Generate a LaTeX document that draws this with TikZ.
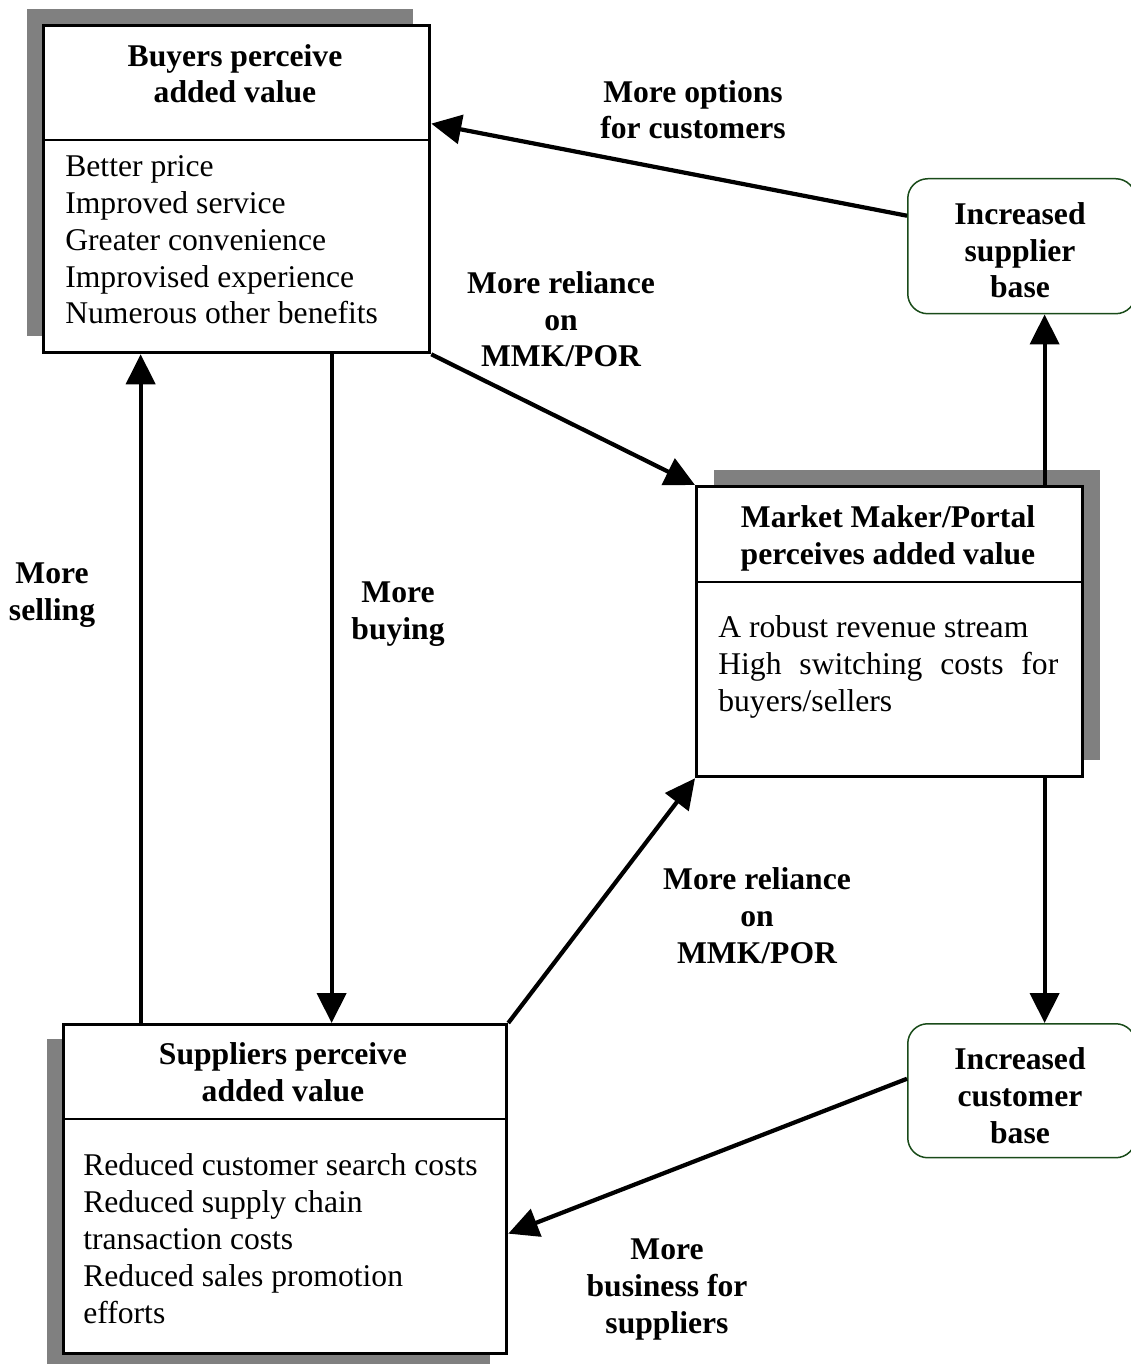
\documentclass[tikz,border=0pt]{standalone}
\usepackage{fontspec}
\setmainfont{Liberation Serif}
\usetikzlibrary{arrows.meta,shadows}
\definecolor{basegreen}{RGB}{25,75,25}
\tikzset{>={Triangle[length=0.6cm,width=0.58cm]}}

\begin{document}
\begin{tikzpicture}[x=0.02cm, y=-0.02cm,
    font=\fontsize{18}{21}\selectfont,
    valuebox/.style={draw, line width=1.9pt, fill=white, anchor=north west, inner sep=0pt},
    boxtitle/.style={font=\fontsize{18}{21}\selectfont\bfseries, align=center, anchor=base, inner sep=0pt},
    boxitems/.style={align=left, anchor=base west, inner sep=0pt},
    basebox/.style={draw=basegreen, line width=0.85pt, rounded corners=0.4cm, fill=white, anchor=north west, inner sep=0pt},
    flow/.style={->, line width=2.4pt},
    flowlabel/.style={font=\fontsize{18}{21}\selectfont\bfseries, align=center, anchor=base, inner sep=0pt}]

    \useasboundingbox (0,0) rectangle (1131,1364);

    % Value boxes with their shadows
    \node[valuebox, minimum width=7.72cm, minimum height=6.54cm,
          drop shadow={shadow xshift=-0.34cm, shadow yshift=0.34cm, fill=black!50, opacity=1}]
          (buyers) at (42,24) {};
    \node[valuebox, minimum width=7.72cm, minimum height=5.8cm,
          drop shadow={shadow xshift=0.34cm, shadow yshift=0.34cm, fill=black!50, opacity=1}]
          (mmk) at (695,485) {};
    \node[valuebox, minimum width=8.86cm, minimum height=6.58cm,
          drop shadow={shadow xshift=-0.34cm, shadow yshift=-0.28cm, fill=black!50, opacity=1}]
          (suppliers) at (62,1023) {};

    % Dividers under the titles
    \draw[line width=0.75pt] ([yshift=-2.32cm]buyers.north west) -- ([yshift=-2.32cm]buyers.north east);
    \draw[line width=0.75pt] ([yshift=-1.94cm]mmk.north west) -- ([yshift=-1.94cm]mmk.north east);
    \draw[line width=0.75pt] ([yshift=-1.92cm]suppliers.north west) -- ([yshift=-1.92cm]suppliers.north east);

    % Titles and contents (placed at the baseline of the last line)
    \node[boxtitle] (buyerstitle) at (235,103) {Buyers perceive\\added value};
    \node[boxitems] (buyersitems) at (65,324) {Better price\\Improved service\\Greater convenience\\Improvised experience\\Numerous other benefits};
    \node[boxtitle] (mmktitle) at (888,564) {Market Maker/Portal\\perceives added value};
    \node[boxitems] (mmkitems) at (718,711) {A robust revenue stream\\\makebox[6.8cm][s]{High switching costs for}\\buyers/sellers};
    \node[boxtitle] (supplierstitle) at (283,1101) {Suppliers perceive\\added value};
    \node[boxitems] (suppliersitems) at (83,1323) {Reduced customer search costs\\Reduced supply chain\\transaction costs\\Reduced sales promotion\\efforts};

    % Rounded boxes on the right
    \node[basebox, minimum width=4.56cm, minimum height=2.7cm] (supbase) at (907,178) {};
    \node[boxtitle] (supbasetext) at (1020,298) {Increased\\supplier\\base};
    \node[basebox, minimum width=4.56cm, minimum height=2.68cm] (custbase) at (907,1023) {};
    \node[boxtitle] (custbasetext) at (1020,1143) {Increased\\customer\\base};

    % Arrows
    \draw[flow] ([yshift=0.61cm]supbase.west) -- ([yshift=1.31cm]buyers.east);
    \draw[flow] (buyers.south east) -- (mmk.north west);
    \draw[flow] ([xshift=1.9cm]buyers.south) -- ([xshift=1.9cm]buyers.south |- suppliers.north);
    \draw[flow] ([xshift=-1.92cm]buyers.south |- suppliers.north) -- ([xshift=-1.92cm]buyers.south);
    \draw[flow] (suppliers.north east) -- (mmk.south west);
    \draw[flow] ([xshift=3.1cm]mmk.north) -- ([xshift=3.1cm]mmk.north |- supbase.south);
    \draw[flow] ([xshift=3.1cm]mmk.south) -- ([xshift=3.1cm]mmk.south |- custbase.north);
    \draw[flow] ([yshift=0.24cm]custbase.west) -- ([yshift=-0.89cm]suppliers.east);

    % Arrow labels
    \node[flowlabel] (optlabel) at (693,139) {More options\\for customers};
    \node[flowlabel] (relylabel) at (561,367) {More reliance\\on\\MMK/POR};
    \node[flowlabel] (buylabel) at (398,639) {More\\buying};
    \node[flowlabel] (selllabel) at (52,620) {More\\selling};
    \node[flowlabel] (relylabelb) at (757,963) {More reliance\\on\\MMK/POR};
    \node[flowlabel] (bizlabel) at (667,1333) {More\\business for\\suppliers};

\end{tikzpicture}
\end{document}
